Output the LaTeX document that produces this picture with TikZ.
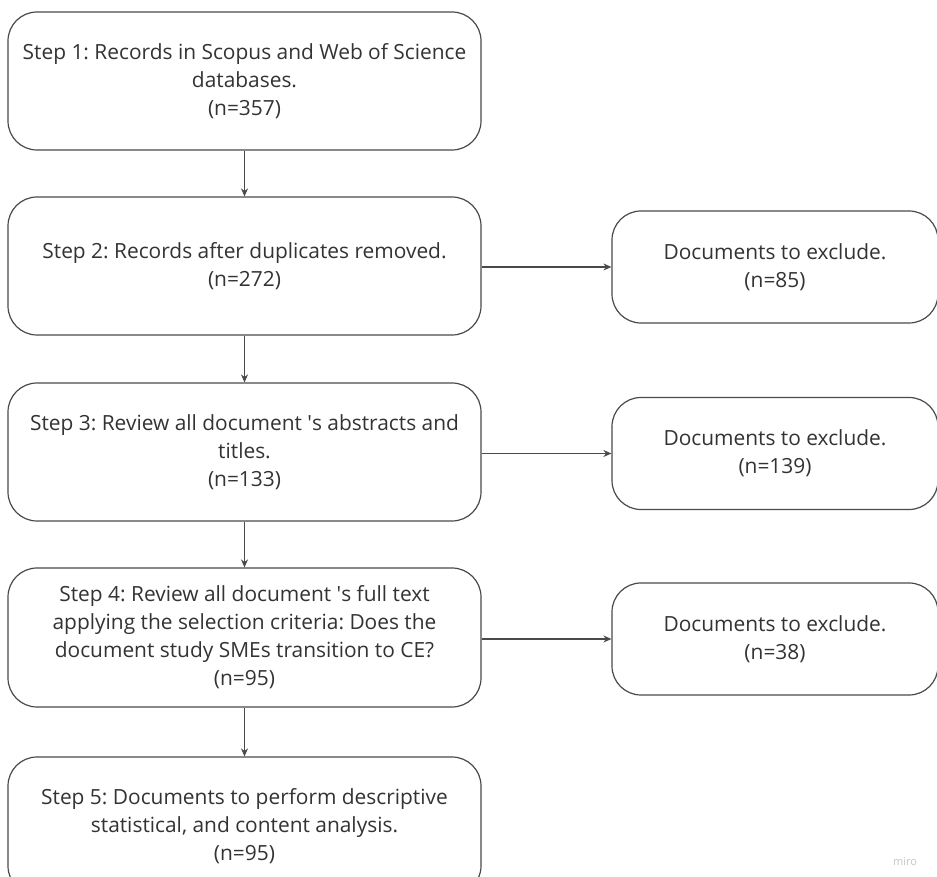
\documentclass[tikz,border=0pt]{standalone}
\usepackage{fontspec}
\setmainfont{Open Sans}
\usetikzlibrary{arrows.meta}
\definecolor{edge}{HTML}{4A4A4A}
\definecolor{ink}{HTML}{333333}
\definecolor{mark}{HTML}{C4C4C4}
\frenchspacing
\begin{document}
\begin{tikzpicture}[x=1pt,y=1pt,
  stepbox/.style={draw=edge, line width=1.2pt, rounded corners=29pt,
    minimum width=473pt, minimum height=138pt, align=center,
    text=ink, font=\fontsize{20.9}{28}\selectfont, inner sep=0pt},
  exclbox/.style={stepbox, minimum width=326pt, minimum height=112pt},
  flow/.style={draw=edge, line width=1.2pt, -{Stealth[length=8pt,width=7pt]}}]
\useasboundingbox (0,0) rectangle (937,876);
\fill[white] (0,0) rectangle (937,876);
% main column of steps
\node[stepbox] (s1) at (244.5,795) {Step 1: Records in Scopus and Web of Science\\databases.\\(n=357)};
\node[stepbox] (s2) at (244.5,610) {Step 2: Records after duplicates removed.\\(n=272)};
\node[stepbox] (s3) at (244.5,424) {Step 3: Review all document \textquotesingle s abstracts and\\titles.\\(n=133)};
\node[stepbox, minimum height=139pt] (s4) at (244.5,238.5) {Step 4: Review all document \textquotesingle s full text\\applying the selection criteria: Does the\\document study SMEs transition to CE?\\(n=95)};
\node[stepbox] (s5) at (244.5,50) {Step 5: Documents to perform descriptive\\statistical, and content analysis.\\(n=95)};
% excluded documents
\node[exclbox] (e2) at (775,609) {Documents to exclude.\\(n=85)};
\node[exclbox] (e3) at (775,422.5) {Documents to exclude.\\(n=139)};
\node[exclbox] (e4) at (775,237) {Documents to exclude.\\(n=38)};
% connectors
\draw[flow] (s1) -- (s2);
\draw[flow] (s2) -- (s3);
\draw[flow] (s3) -- (s4);
\draw[flow] (s4) -- (s5);
\draw[flow] (s2.east |- e2) -- (e2);
\draw[flow] (s3.east |- e3) -- (e3);
\draw[flow] (s4.east |- e4) -- (e4);
% watermark
\node[text=mark, font=\fontsize{11}{13}\selectfont] (wm) at (905,14) {miro};
\end{tikzpicture}
\end{document}
